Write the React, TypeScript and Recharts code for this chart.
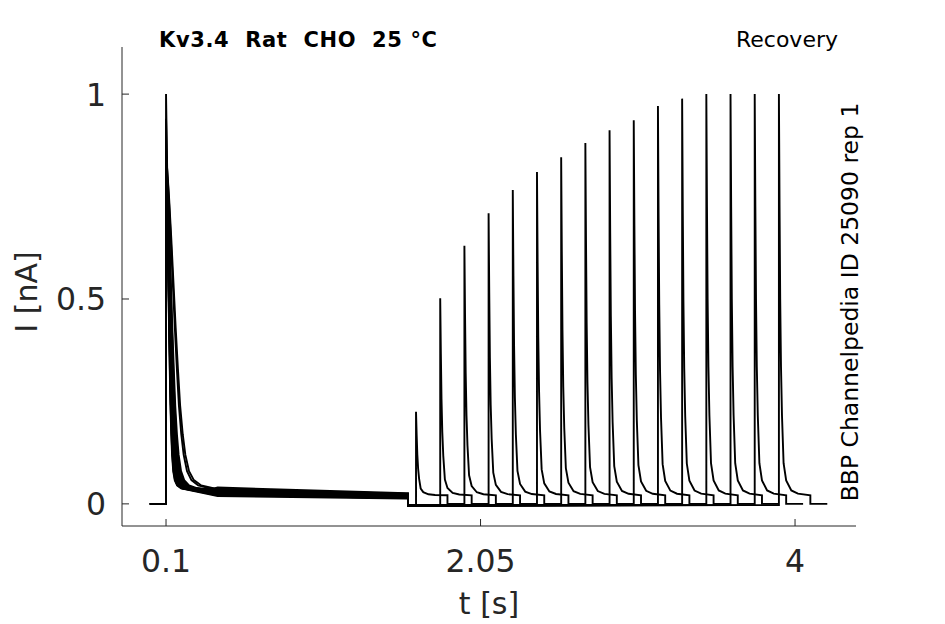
import React from "react";
import { Line, LineChart, XAxis, YAxis } from "recharts";

// recovery protocol: second pulse onset per sweep [s]
const onsetTimes = [1.65, 1.8, 1.95, 2.1, 2.25, 2.4, 2.55, 2.7, 2.85, 3.0, 3.15, 3.3, 3.45, 3.6, 3.75, 3.9];
// peak current of the second pulse [nA]
const recoveryPeaks = [0.225, 0.502, 0.63, 0.709, 0.766, 0.81, 0.846, 0.881, 0.912, 0.936, 0.971, 0.989, 1.0, 1.0, 1.0, 1.0];
// first pulse (t = 0.1 s)
const firstPeaks = [1.0, 0.94, 0.86, 0.85, 0.85, 0.84, 0.84, 0.85, 0.84, 0.84, 0.85, 0.84, 0.84, 0.85, 0.84, 0.84];
const firstDecayStretch = [2.3, 2.1, 1.0, 0.8, 1.3, 0.75, 1.1, 0.95, 0.72, 1.4, 0.85, 1.5, 1.0, 0.8, 1.2, 1.05];
const firstDecayT = [0, 0.003, 0.008, 0.014, 0.02, 0.026, 0.032, 0.038, 0.045, 0.052, 0.062, 0.075, 0.095, 0.13];
const firstDecayV = [0.84, 0.82, 0.75, 0.65, 0.54, 0.43, 0.33, 0.24, 0.17, 0.12, 0.08, 0.058, 0.045, 0.038];
const plateauEarly = [0.04, 0.037, 0.03, 0.026, 0.033, 0.022, 0.028, 0.031, 0.019, 0.035, 0.024, 0.029, 0.027, 0.021, 0.032, 0.025];
const plateauLate = [0.026, 0.024, 0.021, 0.017, 0.023, 0.014, 0.019, 0.022, 0.013, 0.025, 0.016, 0.02, 0.018, 0.015, 0.022, 0.017];
// second pulse decay shape (fraction of peak above plateau)
const recDecayT = [0, 0.004, 0.008, 0.013, 0.019, 0.029, 0.045, 0.077, 0.118, 0.195];
const recDecayF = [1, 0.72, 0.49, 0.32, 0.2, 0.08, 0.037, 0.012, 0.004, 0];
const recPlateau = 0.021;

const xTicks = [0.1, 2.05, 4];
const yTicks = [0, 0.5, 1];

const FONT = "DejaVu Sans";
const INK = "#262626";

type Pt = { t: number; v: number };

function buildSweep(i: number): Pt[] {
  const pts: Pt[] = [
    { t: 0, v: 0 },
    { t: 0.1, v: 0 },
    { t: 0.1, v: firstPeaks[i] },
  ];
  for (let k = 1; k < firstDecayT.length; k++) {
    pts.push({ t: 0.1 + firstDecayT[k] * firstDecayStretch[i], v: firstDecayV[k] });
  }
  pts.push({ t: 0.42, v: plateauEarly[i] });
  pts.push({ t: 1.59, v: plateauLate[i] });
  pts.push({ t: 1.6, v: plateauLate[i] });
  pts.push({ t: 1.6, v: -0.004 });
  const on = onsetTimes[i];
  pts.push({ t: on, v: -0.003 });
  recDecayT.forEach((d, k) => {
    pts.push({ t: on + d, v: recPlateau + (recoveryPeaks[i] - recPlateau) * recDecayF[k] });
  });
  pts.push({ t: on + 0.195, v: 0 });
  pts.push({ t: on + 0.3, v: 0 });
  return pts;
}

const sweeps = onsetTimes.map((_, i) => buildSweep(i));

function XTick(props: any) {
  const { x, y, payload } = props;
  return (
    <g>
      <line x1={x} x2={x} y1={y} y2={y - 7} stroke={INK} />
      <text x={x} y={y + 46} textAnchor="middle" fontSize={31.5} fill={INK} fontFamily={FONT}>
        {String(payload.value)}
      </text>
    </g>
  );
}

function YTick(props: any) {
  const { x, y, payload } = props;
  return (
    <g>
      <line x1={x} x2={x + 7} y1={y} y2={y} stroke={INK} />
      <text x={x - 16} y={y + 11.5} textAnchor="end" fontSize={31.5} fill={INK} fontFamily={FONT}>
        {String(payload.value)}
      </text>
    </g>
  );
}

export default function App() {
  return (
    <div style={{ position: "absolute", left: 0, top: 0, width: 945, height: 624, background: "#fff" }}>
      <LineChart width={945} height={624} margin={{ top: 47, right: 89, bottom: 97, left: 121 }}>
        <XAxis
          type="number"
          dataKey="t"
          domain={[-0.173, 4.378]}
          ticks={xTicks}
          interval={0}
          height={1}
          tickSize={0}
          tickMargin={0}
          tickLine={false}
          tick={(p: any) => <XTick {...p} />}
          axisLine={{ stroke: INK }}
          allowDataOverflow
        />
        <YAxis
          type="number"
          dataKey="v"
          domain={[-0.054, 1.115]}
          ticks={yTicks}
          interval={0}
          width={1}
          tickSize={0}
          tickMargin={0}
          tickLine={false}
          tick={(p: any) => <YTick {...p} />}
          axisLine={{ stroke: INK }}
          allowDataOverflow
        />
        {sweeps.map((d, i) => (
          <Line
            key={i}
            data={d}
            dataKey="v"
            type="linear"
            stroke="#000"
            strokeWidth={1.9}
            dot={false}
            activeDot={false}
            isAnimationActive={false}
          />
        ))}
      </LineChart>
      <svg
        width={945}
        height={624}
        style={{ position: "absolute", left: 0, top: 0, pointerEvents: "none" }}
      >
        <text
          x={159}
          y={47}
          fontSize={21}
          fontWeight="bold"
          fill="#000"
          fontFamily={FONT}
          textLength={278}
          lengthAdjust="spacing"
          style={{ whiteSpace: "pre" }}
        >
          {"Kv3.4  Rat  CHO  25 °C"}
        </text>
        <text x={838} y={47} textAnchor="end" fontSize={22} fill="#000" fontFamily={FONT}>
          Recovery
        </text>
        <text
          transform="translate(858,302) rotate(-90)"
          textAnchor="middle"
          fontSize={23.5}
          fill="#000"
          fontFamily={FONT}
        >
          BBP Channelpedia ID 25090 rep 1
        </text>
        <text
          transform="translate(37,292) rotate(-90)"
          textAnchor="middle"
          fontSize={30}
          fill={INK}
          fontFamily={FONT}
        >
          I [nA]
        </text>
        <text x={489} y={614} textAnchor="middle" fontSize={30} fill={INK} fontFamily={FONT}>
          t [s]
        </text>
      </svg>
    </div>
  );
}
